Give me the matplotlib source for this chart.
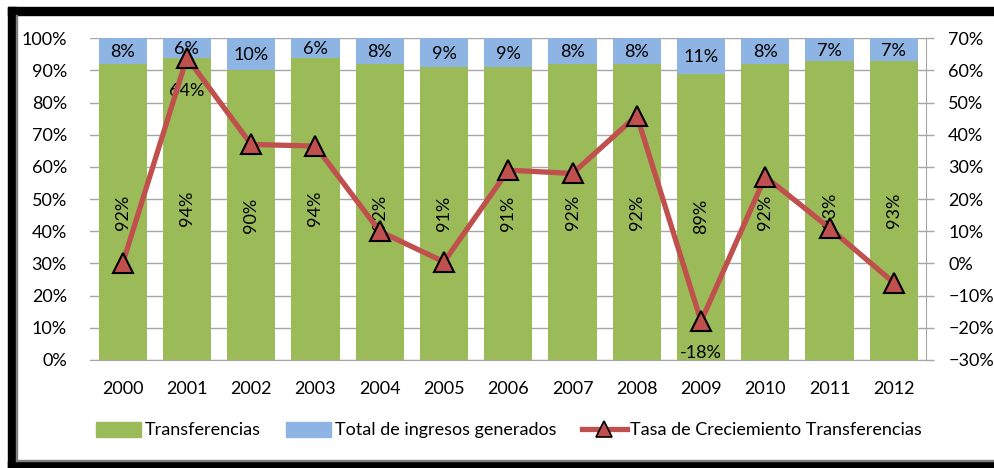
import matplotlib.pyplot as plt
import numpy as np
from matplotlib.patches import Rectangle
from matplotlib.lines import Line2D
from matplotlib.ticker import PercentFormatter

years = ['2000', '2001', '2002', '2003', '2004', '2005', '2006',
         '2007', '2008', '2009', '2010', '2011', '2012']
transferencias = [92, 94, 90, 94, 92, 91, 91, 92, 92, 89, 92, 93, 93]
ingresos = [8, 6, 10, 6, 8, 9, 9, 8, 8, 11, 8, 7, 7]
tasa = [0, 64, 37, 36.5, 10, 0.5, 29, 28, 46, -18, 27, 11, -6]

GREEN = '#9BBB59'
BLUE = '#8EB4E3'
RED = '#C0504D'
GRID = '#A6A6A6'

plt.rcParams['font.family'] = ['Lato', 'DejaVu Sans']
plt.rcParams['font.size'] = 13

fig = plt.figure(figsize=(9.95, 4.68), dpi=100)
W, H = 995, 468

def fx(px):
    return px / W

def fy(py):
    return 1 - py / H

# plot area in pixel coords
left, right, top, bottom = 90.5, 926, 38.3, 360
ax = fig.add_axes([fx(left), fy(bottom), fx(right - left), (bottom - top) / H])
ax2 = ax.twinx()

x = np.arange(len(years))
bw = 0.75
ax.bar(x, transferencias, bw, color=GREEN, zorder=2)
ax.bar(x, ingresos, bw, bottom=transferencias, color=BLUE, zorder=2)

for i in range(len(years)):
    ax.text(x[i], transferencias[i] / 2, f'{transferencias[i]}%', rotation=90,
            ha='center', va='center', fontsize=13, zorder=3)
    ax.text(x[i], transferencias[i] + ingresos[i] / 2 - 0.3, f'{ingresos[i]}%',
            ha='center', va='center', fontsize=13, zorder=3)

ax.set_xlim(-0.5, len(years) - 0.5)
ax.set_ylim(0, 100)
ax.set_yticks(range(0, 101, 10))
ax.yaxis.set_major_formatter(PercentFormatter(decimals=0))
ax.set_xticks(x)
ax.set_xticklabels(years)
ax.grid(axis='y', color=GRID, linewidth=1, zorder=0)
ax.set_axisbelow(True)
for s in ['top', 'left', 'right']:
    ax.spines[s].set_visible(False)
ax.spines['bottom'].set_color(GRID)
ax.tick_params(axis='y', length=0, pad=17, colors='#404040', labelcolor='black')
ax.tick_params(axis='x', length=0, pad=15)

ax2.plot(x, tasa, color=RED, linewidth=3.8, marker='^', markersize=15,
         markerfacecolor=RED, markeredgecolor='black', markeredgewidth=1.5,
         zorder=4)
ax2.set_ylim(-30, 70)
ax2.set_yticks(range(-30, 71, 10))
ax2.yaxis.set_major_formatter(PercentFormatter(decimals=0))
for s in ['top', 'left', 'bottom']:
    ax2.spines[s].set_visible(False)
ax2.spines['right'].set_color(GRID)
ax2.tick_params(axis='y', length=6, width=1, color=GRID, pad=10)

ax2.annotate('64%', (x[1], tasa[1]), xytext=(0, -24), textcoords='offset points',
             ha='center', va='center', fontsize=13)
ax2.annotate('-18%', (x[9], tasa[9]), xytext=(0, -23), textcoords='offset points',
             ha='center', va='center', fontsize=13)

handles = [
    Rectangle((0, 0), 1, 1, color=GREEN),
    Rectangle((0, 0), 1, 1, color=BLUE),
    Line2D([], [], color=RED, linewidth=3.8, marker='^', markersize=11,
           markerfacecolor=RED, markeredgecolor='black', markeredgewidth=1.2),
]
fig.legend(handles, ['Transferencias', 'Total de ingresos generados',
                     'Tasa de Creciemiento Transferencias'],
           loc='center', bbox_to_anchor=(fx(509), fy(430)), ncol=3, frameon=False,
           handlelength=2.5, handleheight=0.9, handletextpad=0.2,
           columnspacing=1.4, fontsize=13)

# black frame around the chart
for (x0, y0, w, h) in [(8, 7, W - 8, 8), (8, 7, 8, H - 7), (8, 461, W - 8, 7)]:
    fig.patches.append(Rectangle((fx(x0), fy(y0 + h)), w / W, h / H,
                                 transform=fig.transFigure, color='black'))
fig.patches.append(Rectangle((fx(16), fy(461)), 1.5 / W, (461 - 15) / H,
                             transform=fig.transFigure, color='#808080'))
fig.patches.append(Rectangle((fx(16), fy(461)), (W - 16) / W, 1.2 / H,
                             transform=fig.transFigure, color='#808080'))

fig.savefig('out.png', dpi=100)
